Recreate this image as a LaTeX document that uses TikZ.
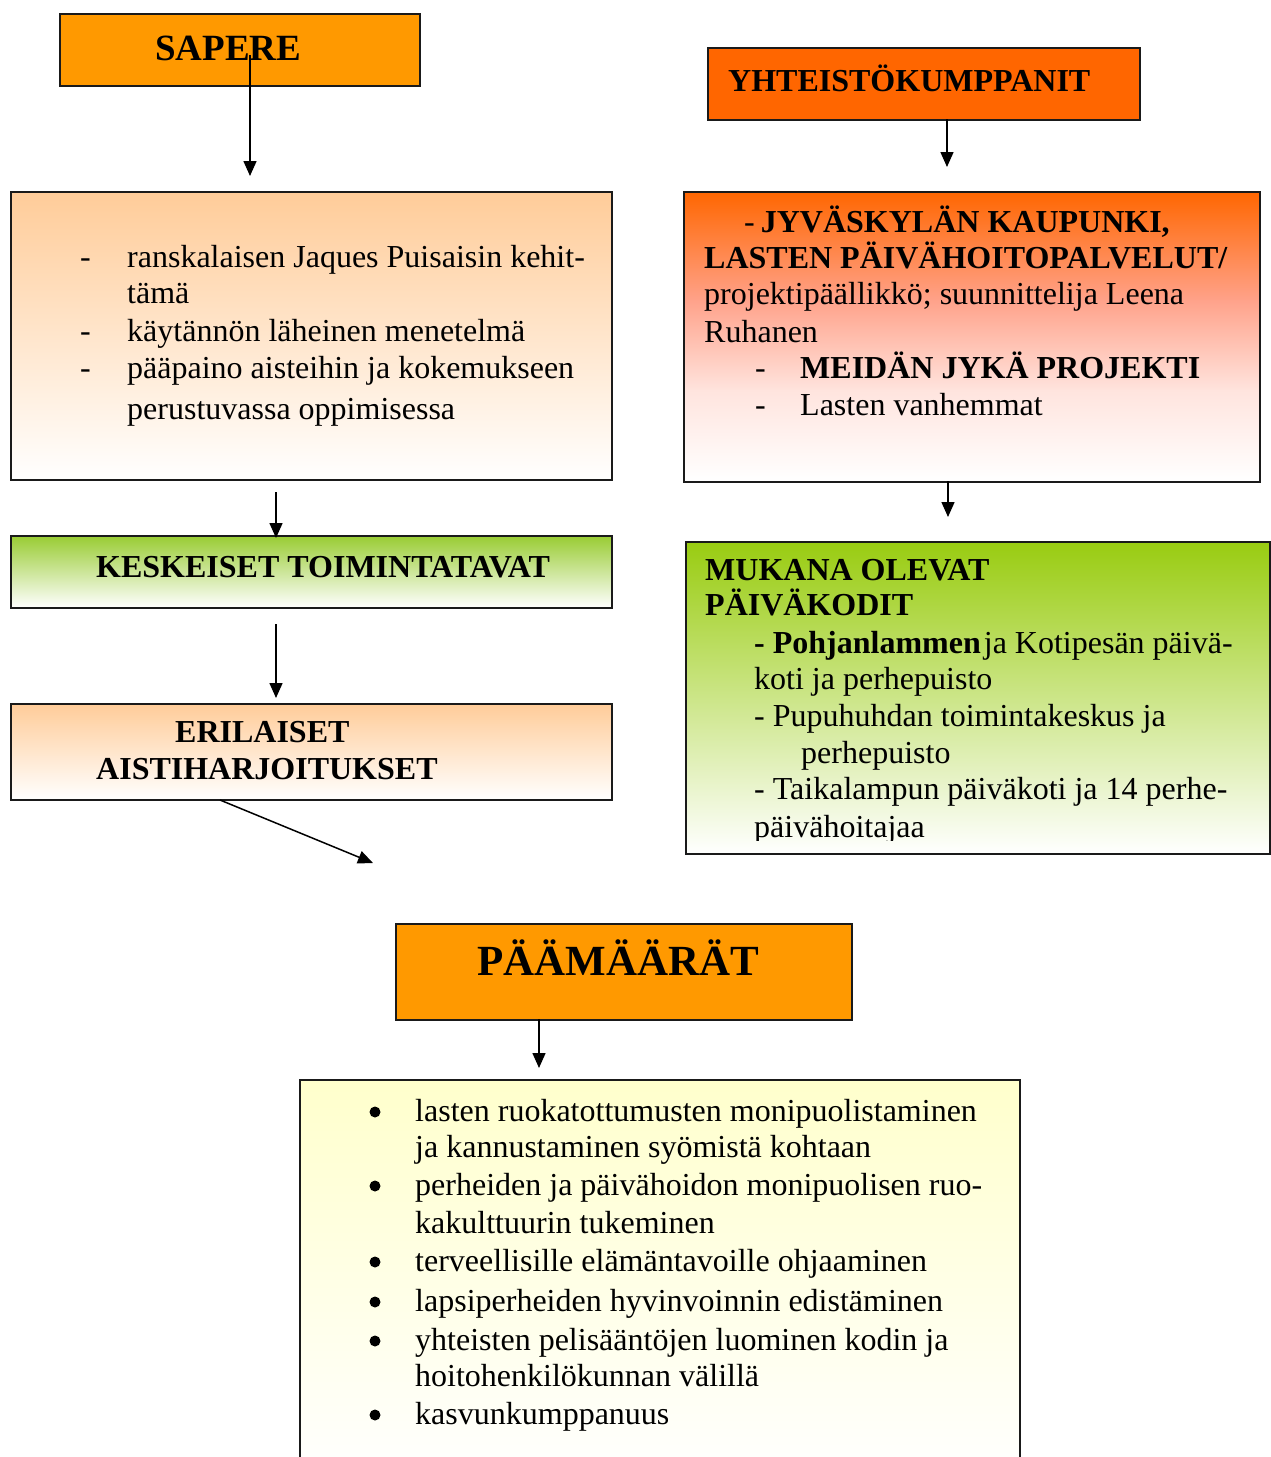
\documentclass[tikz,border=0pt]{standalone}
\usepackage{fontspec}
\setmainfont{Liberation Serif}
\usetikzlibrary{arrows.meta}
\definecolor{orangeA}{HTML}{FF9900}
\definecolor{orangeB}{HTML}{FF6600}
\definecolor{peach}{HTML}{FFCC99}
\definecolor{greenA}{HTML}{99CC33}
\definecolor{greenB}{HTML}{99CC11}
\definecolor{salmonA}{HTML}{FFA28A}
\definecolor{salmonB}{HTML}{FFE4DE}
\definecolor{paleY}{HTML}{FFFFCC}
\definecolor{edge}{HTML}{1A1A1A}
\begin{document}
\begin{tikzpicture}[x=1pt,y=-1pt,
  box/.style={draw=edge,line width=1.5pt,rectangle,inner sep=0pt,anchor=north west},
  txt/.style={anchor=base west,inner sep=0pt,font=\fontsize{32}{37}\selectfont},
  btxt/.style={anchor=base west,inner sep=0pt,font=\fontsize{32}{37}\selectfont\bfseries},
  dot/.style={circle,fill=black,inner sep=0pt,minimum size=11pt},
  arr/.style={line width=1.5pt,-{Triangle[length=15pt,width=13pt]}}]
\useasboundingbox (0,0) rectangle (1271,1457);
\clip (0,0) rectangle (1271,1457);
\fill[white] (0,0) rectangle (1271,1457);

% ---------- boxes ----------
\node[box,fill=orangeA,minimum width=360pt,minimum height=72pt] (sapere) at (59,13) {};
\node[box,top color=peach,bottom color=white,minimum width=601pt,minimum height=288pt] (boxa) at (10,191) {};
\node[box,top color=greenA,bottom color=white,minimum width=601pt,minimum height=72pt] (kesk) at (10,535) {};
\node[box,top color=peach,bottom color=white,minimum width=601pt,minimum height=96pt] (eril) at (10,703) {};

\node[box,fill=orangeB,minimum width=432pt,minimum height=72pt] (yht) at (707,47) {};
% graded fill of the municipal box, in three bands
\shade[top color=orangeB,bottom color=salmonA] (683,191) rectangle (1259,301);
\shade[top color=salmonA,bottom color=salmonB] (683,300) rectangle (1259,391);
\shade[top color=salmonB,bottom color=white] (683,390) rectangle (1259,481);
\node[box,minimum width=576pt,minimum height=290pt] (boxb) at (683,191) {};
\node[box,top color=greenB,bottom color=white,minimum width=584pt,minimum height=312pt] (mukana) at (685,541) {};

\node[box,fill=orangeA,minimum width=456pt,minimum height=96pt] (paam) at (395,923) {};
\node[box,top color=paleY,bottom color=white,minimum width=720pt,minimum height=400pt] (goals) at (299,1079) {};

% ---------- connectors ----------
\coordinate (c1s) at (250,55);   \coordinate (c1e) at (250,176);
\coordinate (c2s) at (276,492);  \coordinate (c2e) at (276,538);
\coordinate (c3s) at (276,624);  \coordinate (c3e) at (276,698);
\coordinate (c4s) at (220,800);  \coordinate (c4e) at (373,863);
\coordinate (c5s) at (947,119);  \coordinate (c5e) at (947,167);
\coordinate (c6s) at (948,481);  \coordinate (c6e) at (948,517);
\coordinate (c7s) at (539,1019); \coordinate (c7e) at (539,1068);
\draw[arr] (c1s) -- (c1e);
\draw[arr] (c2s) -- (c2e);
\draw[arr] (c3s) -- (c3e);
\draw[arr] (c4s) -- (c4e);
\draw[arr] (c5s) -- (c5e);
\draw[arr] (c6s) -- (c6e);
\draw[arr] (c7s) -- (c7e);

% ---------- texts ----------
\node[anchor=base west,inner sep=0pt,font=\fontsize{37}{40}\selectfont\bfseries] (tsap) at (155,60) {SAPERE};

\node[txt] (a1d) at (80,267) {-};
\node[txt] (a1) at (127,267) {ranskalaisen Jaques Puisaisin kehit-};
\node[txt] (a2) at (127,303) {tämä};
\node[txt] (a3d) at (80,341) {-};
\node[txt] (a3) at (127,341) {käytännön läheinen menetelmä};
\node[txt] (a4d) at (80,378) {-};
\node[txt] (a4) at (127,378) {pääpaino aisteihin ja kokemukseen};
\node[txt] (a5) at (127,419) {perustuvassa oppimisessa};

\node[btxt] (tkesk) at (96,577) {KESKEISET TOIMINTATAVAT};
\node[btxt] (teril1) at (175,742) {ERILAISET};
\node[btxt] (teril2) at (96,779) {AISTIHARJOITUKSET};

\node[btxt] (tyht) at (728,91) {YHTEISTÖKUMPPANIT};

\node[btxt] (b1) at (744,232) {\mdseries -\hspace{6pt}\bfseries JYVÄSKYLÄN KAUPUNKI,};
\node[btxt] (b2) at (704,268) {LASTEN PÄIVÄHOITOPALVELUT/};
\node[txt] (b3) at (704,304) {projektipäällikkö; suunnittelija Leena};
\node[txt] (b4) at (704,342) {Ruhanen};
\node[txt] (b5d) at (755,378) {-};
\node[btxt] (b5) at (800,378) {MEIDÄN JYKÄ PROJEKTI};
\node[txt] (b6d) at (755,415) {-};
\node[txt] (b6) at (800,415) {Lasten vanhemmat};

\node[btxt] (m1) at (705,580) {MUKANA OLEVAT};
\node[btxt] (m2) at (705,615) {PÄIVÄKODIT};
\node[txt] (m3) at (754,653) {\textbf{- Pohjanlammen}\hspace{3pt}ja Kotipesän päivä-};
\node[txt] (m4) at (754,689) {koti ja perhepuisto};
\node[txt] (m5) at (754,726) {- Pupuhuhdan toimintakeskus ja};
\node[txt] (m6) at (801,763) {perhepuisto};
\node[txt] (m7) at (754,799) {- Taikalampun päiväkoti ja 14 perhe-};
\begin{scope}
  \clip (685,800) rectangle (1271,840);
  \node[txt] (m8) at (754,837) {päivähoitajaa};
\end{scope}

\node[anchor=base west,inner sep=0pt,font=\fontsize{43}{46}\selectfont\bfseries] (tpaam) at (477,975) {PÄÄMÄÄRÄT};

\foreach \yy/\nm in {1112/d1,1186/d3,1262/d5,1302/d6,1341/d7,1415/d9}{
  \node[dot] (\nm) at (375,\yy) {};
}
\node[txt] (g1) at (415,1121) {lasten ruokatottumusten monipuolistaminen};
\node[txt] (g2) at (415,1157) {ja kannustaminen syömistä kohtaan};
\node[txt] (g3) at (415,1195) {perheiden ja päivähoidon monipuolisen ruo-};
\node[txt] (g4) at (415,1233) {kakulttuurin tukeminen};
\node[txt] (g5) at (415,1271) {terveellisille elämäntavoille ohjaaminen};
\node[txt] (g6) at (415,1311) {lapsiperheiden hyvinvoinnin edistäminen};
\node[txt] (g7) at (415,1350) {yhteisten pelisääntöjen luominen kodin ja};
\node[txt] (g8) at (415,1386) {hoitohenkilökunnan välillä};
\node[txt] (g9) at (415,1424) {kasvunkumppanuus};
\end{tikzpicture}
\end{document}
